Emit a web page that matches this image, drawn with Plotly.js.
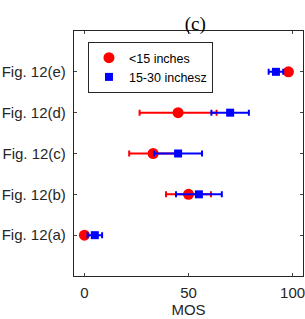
<!DOCTYPE html>
<html><head><meta charset="utf-8">
<script src="https://cdn.plot.ly/plotly-3.0.1.min.js"></script>
<style>body{margin:0;padding:0;background:#fff}#chart{width:305px;height:319px}</style>
</head><body><div id="chart"></div>
<script>
const categories = ["Fig. 12(a)", "Fig. 12(b)", "Fig. 12(c)", "Fig. 12(d)", "Fig. 12(e)"];
const redName = "<15 inches";
const blueName = "15-30 inchesz";
const redMean = [0, 50, 33, 45, 98];
const redErr = [0.5, 10.8, 11.5, 18.5, 1.5];
const blueMean = [5, 55, 45, 70, 92];
const blueErr = [3.5, 11, 11.5, 9, 3.5];
const xTicks = [0, 50, 100];

const traces = [
  {x: redMean, y: categories, type: 'scatter', mode: 'markers', name: redName,
   marker: {symbol: 'circle', color: '#ff0000', size: 11},
   error_x: {type: 'data', array: redErr, visible: true, color: '#ff0000', thickness: 2, width: 3}},
  {x: blueMean, y: categories, type: 'scatter', mode: 'markers', name: blueName,
   marker: {symbol: 'square', color: '#0000ff', size: 8},
   error_x: {type: 'data', array: blueErr, visible: true, color: '#0000ff', thickness: 2, width: 3}}
];
const layout = {
  width: 305, height: 319,
  margin: {l: 74, r: 2, t: 31, b: 43},
  paper_bgcolor: '#fff', plot_bgcolor: '#fff',
  font: {family: 'Liberation Sans, Arial, sans-serif', size: 15, color: '#262626'},
  title: {text: '(c)', font: {family: 'Liberation Serif, Times New Roman, serif', size: 19, color: '#000'},
          x: 0.64, xanchor: 'center', y: 0.905, yanchor: 'bottom'},
  xaxis: {range: [-5, 105], tickvals: xTicks, ticks: 'inside', ticklen: 3, mirror: 'ticks',
          showline: true, linecolor: '#262626', linewidth: 1, showgrid: false, zeroline: false,
          ticklabeloverflow: 'allow', ticklabelstandoff: 3,
          title: {text: 'MOS', font: {size: 15}, standoff: 3}},
  yaxis: {type: 'category', categoryarray: categories, range: [-1, 5], ticks: 'inside', ticklen: 3,
          mirror: 'ticks', showline: true, linecolor: '#262626', linewidth: 1, showgrid: false,
          zeroline: false, ticksuffix: ' ', ticklabeloverflow: 'allow'},
  legend: {x: 0.061, y: 0.955, xanchor: 'left', yanchor: 'top', bgcolor: '#fff',
           bordercolor: '#262626', borderwidth: 1, font: {size: 12.5, color: '#000'},
           itemwidth: 30, tracegroupgap: 0},
  showlegend: true
};
Plotly.newPlot('chart', traces, layout, {displayModeBar: false, staticPlot: true});
</script></body></html>
